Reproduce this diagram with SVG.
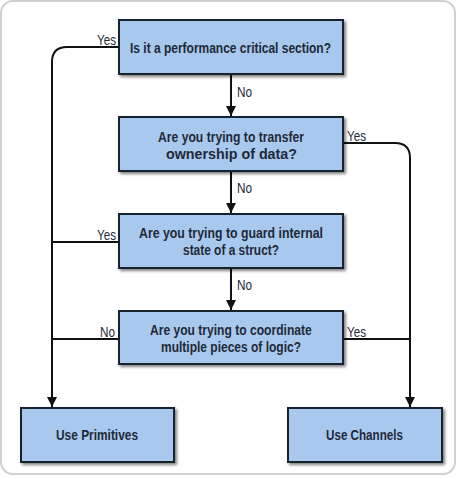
<svg xmlns="http://www.w3.org/2000/svg" width="457" height="478" viewBox="0 0 457 478">
<defs>
<marker id="ah" markerWidth="10" markerHeight="10" refX="10" refY="5" orient="auto" markerUnits="userSpaceOnUse">
<path d="M0,0 L10,5 L0,10 Z" fill="#111"/>
</marker>
<filter id="sh" x="-10%" y="-10%" width="130%" height="140%">
<feGaussianBlur in="SourceAlpha" stdDeviation="1.5"/>
<feOffset dx="2" dy="2" result="b"/>
<feComponentTransfer><feFuncA type="linear" slope="0.5"/></feComponentTransfer>
<feMerge><feMergeNode/><feMergeNode in="SourceGraphic"/></feMerge>
</filter>
</defs>
<style>
.box{fill:#a9c8ee;stroke:#17222e;stroke-width:2;filter:url(#sh)}
.t{font-family:"Liberation Sans",Arial,sans-serif;font-size:15px;font-weight:bold;fill:#1e2a38}
.l{font-family:"Liberation Sans",Arial,sans-serif;font-size:15px;fill:#1e2a38}
.c{fill:none;stroke:#111;stroke-width:2}
</style>
<rect x="1" y="1" width="454" height="473" rx="12" fill="#fff" stroke="#d0d0d0" stroke-width="2"/>
<g id="connectors">
<path class="c" d="M119,47 H67 Q52,47 52,62 V407" marker-end="url(#ah)"/>
<path class="c" d="M119,242 H52"/>
<path class="c" d="M119,339 H52"/>
<path class="c" d="M343,143 H395 Q410,143 410,158 V407" marker-end="url(#ah)"/>
<path class="c" d="M343,339 H410"/>
<path class="c" d="M231,75 V116" marker-end="url(#ah)"/>
<path class="c" d="M231,172 V213" marker-end="url(#ah)"/>
<path class="c" d="M231,269 V310" marker-end="url(#ah)"/>
<text class="l" x="97" y="45" textLength="19" lengthAdjust="spacingAndGlyphs">Yes</text>
<text class="l" x="237" y="97" textLength="15" lengthAdjust="spacingAndGlyphs">No</text>
<text class="l" x="347" y="141" textLength="19" lengthAdjust="spacingAndGlyphs">Yes</text>
<text class="l" x="237" y="193" textLength="15" lengthAdjust="spacingAndGlyphs">No</text>
<text class="l" x="97" y="240" textLength="19" lengthAdjust="spacingAndGlyphs">Yes</text>
<text class="l" x="237" y="290" textLength="15" lengthAdjust="spacingAndGlyphs">No</text>
<text class="l" x="100" y="337" textLength="15" lengthAdjust="spacingAndGlyphs">No</text>
<text class="l" x="347" y="337" textLength="19" lengthAdjust="spacingAndGlyphs">Yes</text>
</g>
<g id="q1">
<rect class="box" x="119" y="20" width="224" height="54"/>
<text class="t" x="130" y="53" textLength="201" lengthAdjust="spacingAndGlyphs">Is it a performance critical section?</text>
</g>
<g id="q2">
<rect class="box" x="119" y="117" width="224" height="54"/>
<text class="t" x="158" y="142" textLength="146" lengthAdjust="spacingAndGlyphs">Are you trying to transfer</text>
<text class="t" x="166" y="159" textLength="131" lengthAdjust="spacingAndGlyphs">ownership of data?</text>
</g>
<g id="q3">
<rect class="box" x="119" y="214" width="224" height="54"/>
<text class="t" x="139" y="238" textLength="184" lengthAdjust="spacingAndGlyphs">Are you trying to guard internal</text>
<text class="t" x="183" y="255" textLength="96" lengthAdjust="spacingAndGlyphs">state of a struct?</text>
</g>
<g id="q4">
<rect class="box" x="119" y="311" width="224" height="53"/>
<text class="t" transform="translate(150,335) scale(0.806,1)" x="0" y="0">Are you trying to coordinate</text>
<text class="t" x="161" y="352" textLength="140" lengthAdjust="spacingAndGlyphs">multiple pieces of logic?</text>
</g>
<g id="primitives">
<rect class="box" x="21" y="408" width="153" height="54"/>
<text class="t" x="56" y="440" textLength="82" lengthAdjust="spacingAndGlyphs">Use Primitives</text>
</g>
<g id="channels">
<rect class="box" x="288" y="408" width="154" height="54"/>
<text class="t" x="326" y="440" textLength="77" lengthAdjust="spacingAndGlyphs">Use Channels</text>
</g>
</svg>
